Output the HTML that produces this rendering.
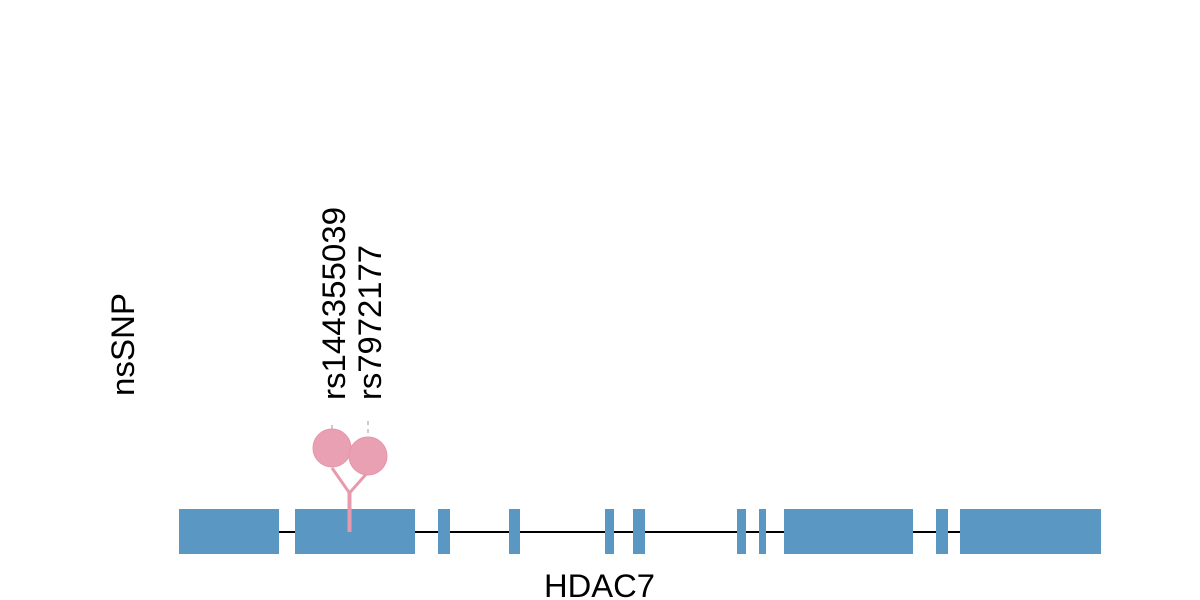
<!DOCTYPE html>
<html><head><style>body{margin:0;background:#fff}svg{display:block}</style></head>
<body>
<svg width="1200" height="600" xmlns="http://www.w3.org/2000/svg" font-family="Liberation Sans, Arial, sans-serif">
<rect width="1200" height="600" fill="#fff"/>
<line x1="179" y1="532" x2="1101" y2="532" stroke="#000" stroke-width="2"/>
<g fill="#5b97c3">
<rect x="179" y="509" width="100" height="45"/>
<rect x="295" y="509" width="120" height="45"/>
<rect x="438" y="509" width="12" height="45"/>
<rect x="509" y="509" width="11" height="45"/>
<rect x="605" y="509" width="9" height="45"/>
<rect x="633" y="509" width="12" height="45"/>
<rect x="737" y="509" width="9" height="45"/>
<rect x="759" y="509" width="7" height="45"/>
<rect x="784" y="509" width="129" height="45"/>
<rect x="936" y="509" width="12" height="45"/>
<rect x="960" y="509" width="141" height="45"/>
</g>
<g stroke="#e79aae" stroke-width="3" fill="none">
<line x1="349.5" y1="493" x2="349.5" y2="532" stroke-width="4"/>
<polyline points="332,468 349.5,493 368,472"/>
</g>
<g stroke="#bbb" stroke-width="1.5" stroke-dasharray="4,4">
<line x1="332" y1="425" x2="332" y2="430"/>
<line x1="368" y1="421" x2="368" y2="437"/>
</g>
<circle cx="332" cy="448" r="19" fill="#e8a0b2" stroke="#e595aa" stroke-width="1"/>
<circle cx="368" cy="456" r="19" fill="#e8a0b2" stroke="#e595aa" stroke-width="1"/>
<g font-size="32" fill="#000">
<text transform="translate(345,400) rotate(-90)" textLength="193" lengthAdjust="spacingAndGlyphs">rs144355039</text>
<text transform="translate(381,400) rotate(-90)" textLength="155" lengthAdjust="spacingAndGlyphs">rs7972177</text>
<text transform="translate(134,396) rotate(-90)" textLength="103" lengthAdjust="spacingAndGlyphs">nsSNP</text>
<text x="544" y="597" textLength="111" lengthAdjust="spacingAndGlyphs">HDAC7</text>
</g>
</svg>
</body></html>
